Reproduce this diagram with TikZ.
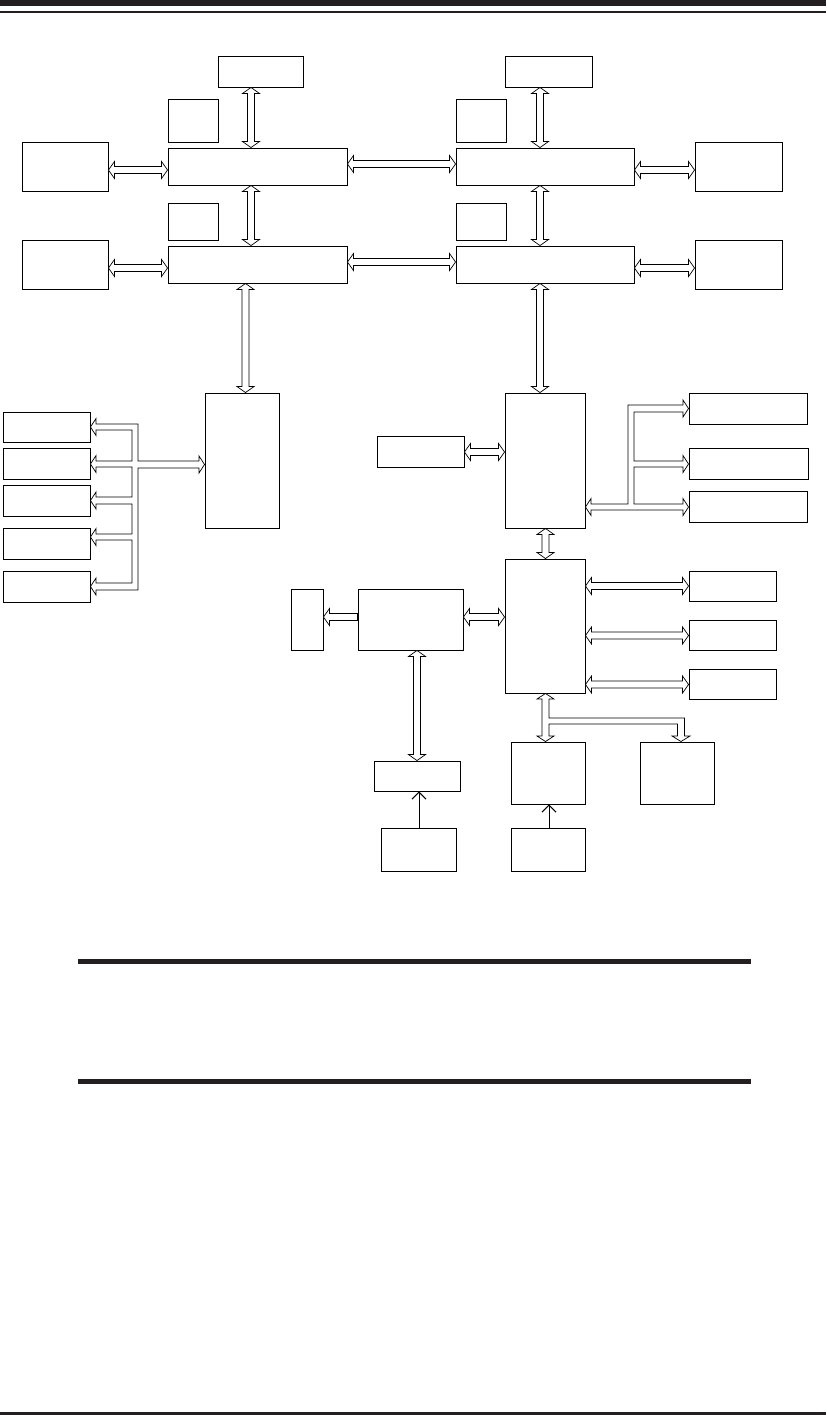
\documentclass[tikz,border=0pt]{standalone}
\usepackage{xcolor}
\usepackage{tikz}
\usetikzlibrary{fit,calc,arrows.meta}
\definecolor{rulecol}{HTML}{231F20}
\tikzset{
  box/.style={draw, line width=0.8pt, inner sep=0pt},
  bus/.style={draw, fill=white, line width=0.6pt, line join=miter},
  wire/.style={line width=0.8pt, -{Straight Barb[length=6pt,width=12pt]}}
}
% hollow double arrows: #1 = x (or y) of the bus, #2/#3 = the two ends
\newcommand{\vbus}[3]{\draw[bus] (#1,0 |- #2) -- ++(8.5,6) -- ++(-5,0) -- ($(#1,0 |- #3)+(3.5,-6)$) -- ++(5,0) -- (#1,0 |- #3) -- ++(-8.5,-6) -- ++(5,0) -- ($(#1,0 |- #2)+(-3.5,6)$) -- ++(-5,0) -- cycle;}
\newcommand{\hbus}[3]{\draw[bus] (#2 |- 0,#1) -- ++(6,-8.5) -- ++(0,5) -- ($(#3 |- 0,#1)+(-6,-3.5)$) -- ++(0,-5) -- (#3 |- 0,#1) -- ++(-6,8.5) -- ++(0,-5) -- ($(#2 |- 0,#1)+(6,3.5)$) -- ++(0,5) -- cycle;}
\begin{document}
\begin{tikzpicture}[x=0.03cm, y=-0.03cm]
\useasboundingbox (0,0) rectangle (826,1415);
\fill[white] (0,0) rectangle (826,1415);

% Page rules
\fill[rulecol] (0,0) rectangle (826,6);
\fill[rulecol] (0,10.5) rectangle (826,13);
\fill[rulecol] (78,959) rectangle (751,964);
\fill[rulecol] (78,1079) rectangle (751,1084);
\fill[rulecol] (0,1412) rectangle (826,1415);

% Processor A side
\node[box, fit={(218,56) (303,87)}] (dimmA) {};
\node[box, fit={(168,99) (218,142)}] (regA1) {};
\node[box, fit={(22,142) (108,191)}] (memA1) {};
\node[box, fit={(168,148) (347,185)}] (cpuA1) {};
\node[box, fit={(168,203) (218,240)}] (regA2) {};
\node[box, fit={(22,240) (108,289)}] (memA2) {};
\node[box, fit={(168,246) (347,283)}] (cpuA2) {};

% Processor B side
\node[box, fit={(505,56) (592,87)}] (dimmB) {};
\node[box, fit={(456,99) (506,142)}] (regB1) {};
\node[box, fit={(456,148) (634,185)}] (cpuB1) {};
\node[box, fit={(695,142) (782,191)}] (memB1) {};
\node[box, fit={(456,203) (506,240)}] (regB2) {};
\node[box, fit={(456,246) (634,283)}] (cpuB2) {};
\node[box, fit={(695,240) (782,289)}] (memB2) {};

% Left hub and its slots
\node[box, fit={(205,393) (279,528)}] (hubL) {};
\node[box, fit={(3,412) (90,442)}] (slot1) {};
\node[box, fit={(3,448) (90,479)}] (slot2) {};
\node[box, fit={(3,485) (90,516)}] (slot3) {};
\node[box, fit={(3,528) (90,559)}] (slot4) {};
\node[box, fit={(3,571) (90,602)}] (slot5) {};

% Right hub and its links
\node[box, fit={(505,393) (585,528)}] (hubR) {};
\node[box, fit={(377,436) (464,467)}] (dev) {};
\node[box, fit={(689,393) (807,424)}] (link1) {};
\node[box, fit={(689,448) (808,479)}] (link2) {};
\node[box, fit={(689,491) (807,522)}] (link3) {};

% South bridge and peripherals
\node[box, fit={(505,559) (585,693)}] (sb) {};
\node[box, fit={(689,571) (776,601)}] (io1) {};
\node[box, fit={(689,620) (776,650)}] (io2) {};
\node[box, fit={(689,669) (776,699)}] (io3) {};
\node[box, fit={(358,589) (463,650)}] (vid) {};
\node[box, fit={(291,589) (323,650)}] (vga) {};
\node[box, fit={(374,761) (460,791)}] (sio) {};
\node[box, fit={(381,828) (456,871)}] (kbd) {};
\node[box, fit={(511,742) (585,804)}] (flash) {};
\node[box, fit={(511,828) (585,871)}] (spi) {};
\node[box, fit={(640,742) (714,804)}] (tpm) {};

% Vertical buses
\vbus{251}{dimmA.south}{cpuA1.north}
\vbus{251}{cpuA1.south}{cpuA2.north}
\vbus{245.5}{cpuA2.south}{hubL.north}
\vbus{540}{dimmB.south}{cpuB1.north}
\vbus{540}{cpuB1.south}{cpuB2.north}
\vbus{540}{cpuB2.south}{hubR.north}
\vbus{545.5}{hubR.south}{sb.north}
\vbus{417}{vid.south}{sio.north}

% Horizontal buses
\hbus{170}{memA1.east}{cpuA1.west}
\hbus{268}{memA2.east}{cpuA2.west}
\hbus{164}{cpuA1.east}{cpuB1.west}
\hbus{262}{cpuA2.east}{cpuB2.west}
\hbus{170}{cpuB1.east}{memB1.west}
\hbus{268}{cpuB2.east}{memB2.west}
\hbus{452}{dev.east}{hubR.west}
\hbus{617}{vid.east}{sb.west}
\hbus{586}{sb.east}{io1.west}
\hbus{635.5}{sb.east}{io2.west}
\hbus{684.5}{sb.east}{io3.west}

% Video out (single head)
\draw[bus] (vga.east |- 0,617) -- ++(6,-8.5) -- ++(0,5) -- (vid.west |- 0,613.5) -- (vid.west |- 0,620.5) -- ($(vga.east |- 0,617)+(6,3.5)$) -- ++(0,5) -- cycle;

% Slot tree
\draw[bus] (slot1.east |- 0,427) -- (96,418.5) -- (96,424) -- (138,424) -- (138,461) -- (199,461) -- (199,456)
  -- (hubL.west |- 0,464.5) -- (199,473) -- (199,468) -- (138,468) -- (138,590) -- (96,590) -- (96,595)
  -- (slot5.east |- 0,586.5) -- (96,578) -- (96,583) -- (132,583) -- (132,540) -- (96,540) -- (96,545.5)
  -- (slot4.east |- 0,537) -- (96,528.5) -- (96,534) -- (132,534) -- (132,504) -- (96,504) -- (96,509)
  -- (slot3.east |- 0,500.5) -- (96,492) -- (96,497) -- (132,497) -- (132,467) -- (96,467) -- (96,472.5)
  -- (slot2.east |- 0,464) -- (96,455.5) -- (96,461) -- (132,461) -- (132,430) -- (96,430) -- (96,435.5) -- cycle;

% Link tree
\draw[bus] (hubR.east |- 0,507) -- (591,498.5) -- (591,504) -- (628,504) -- (628,405) -- (683,405) -- (683,400)
  -- (link1.west |- 0,408.5) -- (683,417) -- (683,412) -- (634,412) -- (634,461) -- (683,461) -- (683,455.5)
  -- (link2.west |- 0,464) -- (683,472.5) -- (683,467) -- (634,467) -- (634,504) -- (683,504) -- (683,498.5)
  -- (link3.west |- 0,507) -- (683,515.5) -- (683,510) -- (591,510) -- (591,515.5) -- cycle;

% Flash / TPM tree
\draw[bus] (545.5,0 |- sb.south) -- (554,699) -- (549,699) -- (549,718) -- (684.5,718) -- (684.5,736) -- (690,736)
  -- (681,0 |- tpm.north) -- (672,736) -- (677.5,736) -- (677.5,724) -- (549,724) -- (549,736) -- (554,736)
  -- (545.5,0 |- flash.north) -- (537,736) -- (542,736) -- (542,699) -- (537,699) -- cycle;

% Plain wires
\draw[wire] (419,0 |- kbd.north) -- (419,0 |- sio.south);
\draw[wire] (549,0 |- spi.north) -- (549,0 |- flash.south);

\end{tikzpicture}
\end{document}
